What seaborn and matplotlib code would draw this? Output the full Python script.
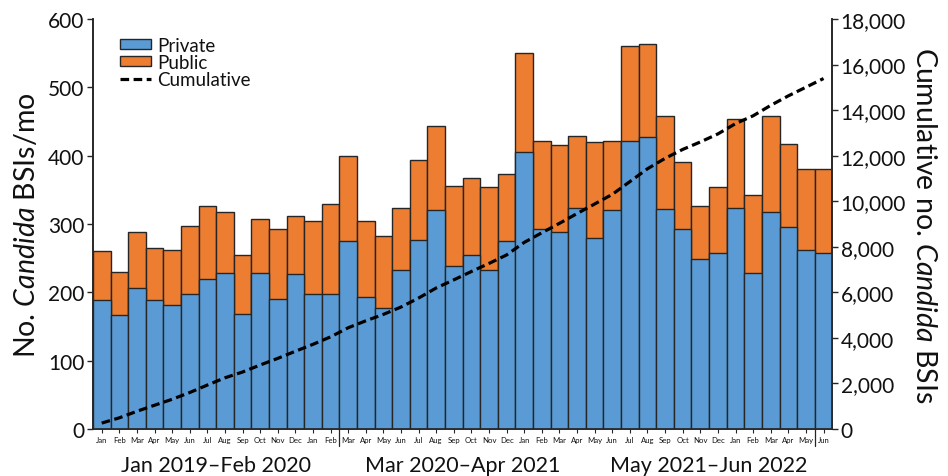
import numpy as np
import pandas as pd
import matplotlib
matplotlib.use("Agg")
import matplotlib.pyplot as plt
import matplotlib.transforms as mtransforms
from matplotlib.patches import Patch
from matplotlib.lines import Line2D
import seaborn as sns

# Monthly Candida bloodstream infections, Jan 2019 – Jun 2022
month_names = ["Jan", "Feb", "Mar", "Apr", "May", "Jun",
               "Jul", "Aug", "Sep", "Oct", "Nov", "Dec"]
month_labels = (month_names * 4)[:42]

private = [189, 167, 207, 189, 182, 198, 220, 228, 168, 228, 191, 227,
           198, 197, 275, 193, 177, 233, 276, 321, 238, 255, 232, 275,
           406, 292, 289, 323, 279, 320, 421, 428, 322, 293, 249, 257,
           323, 229, 317, 295, 262, 257]
total = [261, 230, 288, 265, 262, 297, 327, 318, 255, 307, 292, 312,
         304, 329, 399, 305, 282, 323, 394, 443, 356, 367, 354, 373,
         551, 422, 415, 429, 420, 422, 560, 564, 458, 391, 327, 354,
         453, 343, 458, 417, 380, 381]

period_labels = ["Jan 2019\u2013Feb 2020", "Mar 2020\u2013Apr 2021",
                 "May 2021\u2013Jun 2022"]
period_sizes = [14, 14, 14]

df = pd.DataFrame({
    "month": [f"{i:02d}" for i in range(len(total))],
    "private": private,
    "total": total,
})
df["cumulative"] = df["total"].cumsum()
df["pos"] = np.arange(len(df))

sns.set_theme(style="ticks")
plt.rcParams["font.family"] = ["Lato", "DejaVu Sans"]
plt.rcParams["mathtext.fontset"] = "custom"
plt.rcParams["mathtext.rm"] = "Lato"
plt.rcParams["mathtext.it"] = "Lato:italic"

BLUE = "#5B9BD5"
ORANGE = "#ED7D31"
EDGE = "#262626"
TXT = "#111111"
DASH = (0, (2.7, 1.4))

fig = plt.figure(figsize=(9.48, 4.77), dpi=100)
ax = fig.add_axes([0.098, 0.0985, 0.780, 0.8595])

# Stacked bars: full total in orange, private portion in blue on top
sns.barplot(data=df, x="month", y="total", color=ORANGE, width=1.0,
            edgecolor=EDGE, linewidth=1.0, saturation=1, ax=ax, zorder=2)
sns.barplot(data=df, x="month", y="private", color=BLUE, width=1.0,
            edgecolor=EDGE, linewidth=1.0, saturation=1, ax=ax, zorder=3)

ax.set_xlim(-0.5, len(df) - 0.5)
ax.set_ylim(0, 600)
ax.set_yticks(range(0, 601, 100))
ax.set_xticks(range(len(df)))
ax.set_xticklabels(month_labels, fontsize=5.6, color=TXT)
ax.tick_params(axis="x", length=3, width=0.8, pad=2, color=EDGE)
ax.tick_params(axis="y", labelsize=15, length=4, width=1, color=EDGE, pad=2,
               labelcolor=TXT)
ax.set_xlabel("")
ax.set_ylabel(r"No. $\it{Candida}$ BSIs/mo", fontsize=20.5, labelpad=6,
              color=TXT)
for s in ["left", "bottom", "right"]:
    ax.spines[s].set_color(EDGE)
    ax.spines[s].set_linewidth(1.2)
ax.spines["top"].set_visible(False)

# Cumulative count on the secondary axis
ax2 = ax.twinx()
sns.lineplot(data=df, x="pos", y="cumulative", ax=ax2, color="black",
             linewidth=2.3, linestyle=DASH, zorder=5)
ax2.set_ylim(0, 18000)
ax2.set_yticks(range(0, 18001, 2000))
ax2.set_yticklabels([f"{v:,}" for v in range(0, 18001, 2000)])
ax2.tick_params(axis="y", labelsize=15, length=4, width=1, color=EDGE, pad=2,
                labelcolor=TXT)
ax2.set_ylabel(r"Cumulative no. $\it{Candida}$ BSIs", fontsize=20.5,
               rotation=270, labelpad=22, color=TXT)
ax2.set_xlabel("")
for s in ["left", "bottom", "right"]:
    ax2.spines[s].set_color(EDGE)
    ax2.spines[s].set_linewidth(1.2)
ax2.spines["top"].set_visible(False)

# Period separators and labels beneath the month ticks
trans = mtransforms.blended_transform_factory(ax.transData, ax.transAxes)
start = 0
for lab, n in zip(period_labels, period_sizes):
    ax.text(start + n / 2 - 0.5, -0.088, lab, transform=trans,
            ha="center", va="center", fontsize=15.5, color=TXT)
    start += n
for xb in [13.5, 40.5]:
    ax.add_line(Line2D([xb, xb], [0.0, -0.042], transform=trans,
                       color=EDGE, linewidth=0.9, clip_on=False))

handles = [
    Patch(facecolor=BLUE, edgecolor=EDGE, linewidth=1.0, label="Private"),
    Patch(facecolor=ORANGE, edgecolor=EDGE, linewidth=1.0, label="Public"),
    Line2D([0], [0], color="black", linewidth=2.3, linestyle=DASH,
           label="Cumulative"),
]
leg = ax2.legend(handles=handles, loc="upper left", bbox_to_anchor=(0.027, 0.975),
                 frameon=False, fontsize=13.5, handlelength=1.65,
                 handleheight=0.4, handletextpad=0.3, labelspacing=0.0,
                 borderaxespad=0.0)
for t in leg.get_texts():
    t.set_color(TXT)

fig.savefig("out.png", dpi=100)
